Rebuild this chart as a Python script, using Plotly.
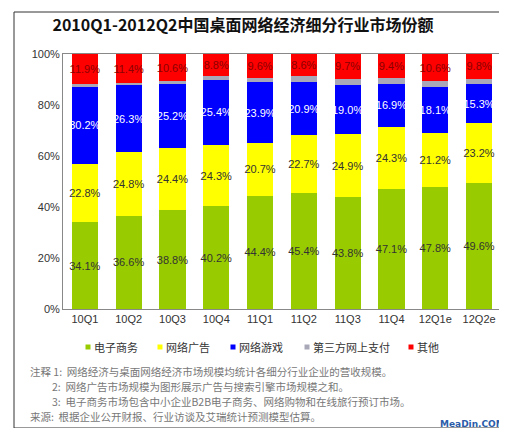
import plotly.graph_objects as go

# Data (market share, %)
quarters = ['10Q1', '10Q2', '10Q3', '10Q4', '11Q1', '11Q2', '11Q3', '11Q4', '12Q1e', '12Q2e']
ecommerce = [34.1, 36.6, 38.8, 40.2, 44.4, 45.4, 43.8, 47.1, 47.8, 49.6]
online_ads = [22.8, 24.8, 24.4, 24.3, 20.7, 22.7, 24.9, 24.3, 21.2, 23.2]
online_games = [30.2, 26.3, 25.2, 25.4, 23.9, 20.9, 19.0, 16.9, 18.1, 15.3]
third_party_pay = [1.0, 0.9, 1.0, 1.3, 1.4, 2.4, 2.6, 2.3, 2.3, 2.1]
others = [11.9, 11.4, 10.6, 8.8, 9.6, 8.6, 9.7, 9.4, 10.6, 9.8]

notes = [
    '注释 1:  网络经济与桌面网络经济市场规模均统计各细分行业企业的营收规模。',
    '2:  网络广告市场规模为图形展示广告与搜索引擎市场规模之和。',
    '3:  电子商务市场包含中小企业B2B电子商务、网络购物和在线旅行预订市场。',
    '来源:  根据企业公开财报、行业访谈及艾瑞统计预测模型估算。',
]

# plot area in pixels (for placing things outside it)
L, R, T, B = 55, 493, 46, 301
def px(x):
    return (x - L) / (R - L)
def py(y):
    return (B - y) / (B - T)

series = [
    ('电子商务', ecommerce, '#99CC00', '#333333'),
    ('网络广告', online_ads, '#FFFF00', '#333333'),
    ('网络游戏', online_games, '#0000FF', '#FFFFFF'),
    ('第三方网上支付', third_party_pay, '#A8A8B8', None),
    ('其他', others, '#FF0000', '#8B0000'),
]

fig = go.Figure()
for name, vals, color, tcolor in series:
    fig.add_trace(go.Bar(
        x=quarters, y=vals, name=name, marker_color=color,
        marker_line_width=0, showlegend=False,
        text=[f'{v:.1f}%' for v in vals] if tcolor else None,
        textposition='inside' if tcolor else 'none',
        insidetextanchor='middle', textangle=0, constraintext='none',
        textfont=dict(family='Liberation Sans', size=11, color=tcolor or '#333'),
    ))

fig.update_layout(
    width=507, height=428,
    margin=dict(l=L, r=507 - R, t=T, b=428 - B),
    barmode='stack', bargap=0.4,
    paper_bgcolor='white', plot_bgcolor='white',
    font=dict(family='Noto Sans CJK SC', size=11, color='#333333'),
    title=dict(text='<b>2010Q1-2012Q2中国桌面网络经济细分行业市场份额</b>',
               x=px(258), xanchor='center', y=1 - 17 / 428, yanchor='middle',
               font=dict(size=16, color='#111111')),
    xaxis=dict(showline=True, linecolor='#888888', mirror=True, ticks='',
               tickfont=dict(family='Liberation Sans', size=11, color='#333')),
    yaxis=dict(range=[0, 100], dtick=20, ticksuffix='%', showgrid=False,
               showline=True, linecolor='#888888', mirror=True, ticks='',
               zeroline=False,
               tickfont=dict(family='Liberation Sans', size=11, color='#333')),
    showlegend=False,
)

# legend row: small square + label
legend_x = [80, 152, 225, 299, 403]
for (name, _, color, _), lx in zip(series, legend_x):
    fig.add_shape(type='rect', xref='paper', yref='paper',
                  x0=px(lx - 2.5), x1=px(lx + 2.5), y0=py(341.5), y1=py(336.5),
                  fillcolor=color, line_width=0)
    fig.add_annotation(text=name, xref='paper', yref='paper',
                       x=px(lx + 4), y=py(339), xanchor='left', yanchor='middle',
                       showarrow=False, font=dict(size=11, color='#333333'))

# notes below the chart
note_x = [20, 42, 42, 20]
for i, line in enumerate(notes):
    fig.add_annotation(text=line, xref='paper', yref='paper',
                       x=px(note_x[i]), y=py(363 + 15 * i), xanchor='left',
                       yanchor='middle', showarrow=False,
                       font=dict(size=10.5, color='#777777'))

fig.add_annotation(text='<b>MeaDin.COM</b>', xref='paper', yref='paper',
                   x=px(499), y=py(416), xanchor='right', yanchor='middle',
                   showarrow=False,
                   font=dict(family='DejaVu Sans', size=9, color='#2A5CAA'))

# outer frame
fig.add_shape(type='rect', xref='paper', yref='paper',
              x0=px(6), x1=px(500), y0=py(420), y1=py(4),
              line=dict(color='#333333', width=1), layer='below')

fig.write_html('out.html')
